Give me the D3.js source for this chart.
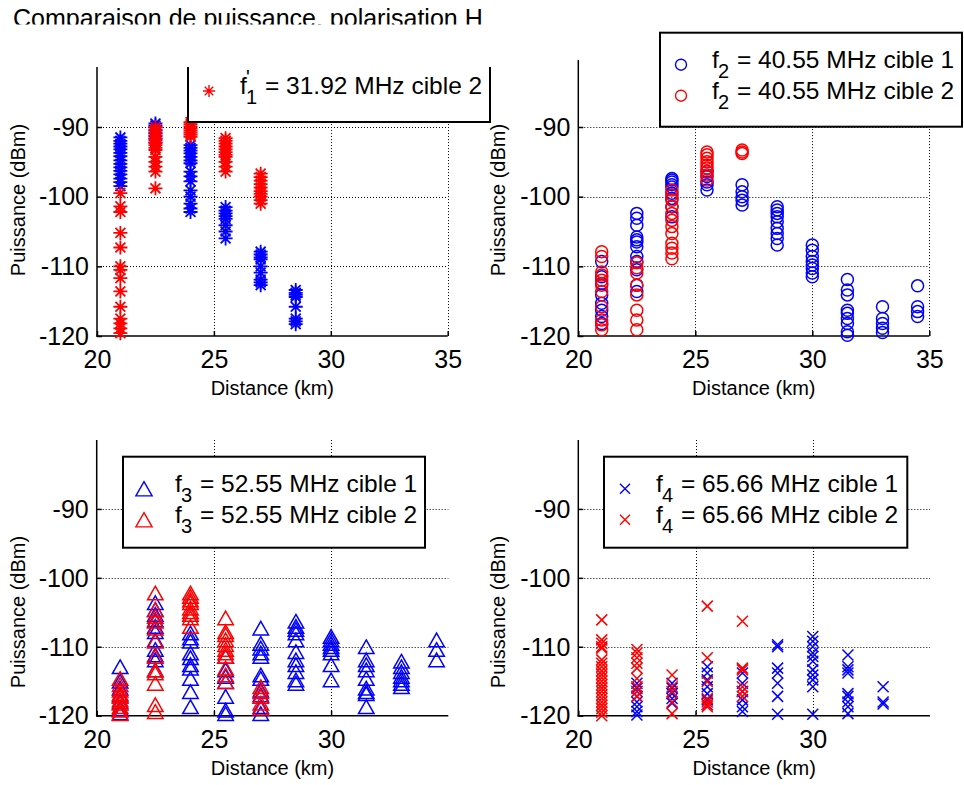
<!DOCTYPE html>
<html><head><meta charset="utf-8">
<script src="https://cdn.jsdelivr.net/npm/d3@7"></script>
<style>
body{margin:0;background:#fff}
svg{display:block}
text{font-family:"Liberation Sans",Arial,Helvetica,sans-serif;fill:#000}
</style>
</head><body>
<svg id="chart" width="964" height="785"></svg>
<script>
// ---------------- data ----------------
const titleText = "Comparaison de puissance, polarisation H";
const xLabelText = "Distance (km)";
const yLabelText = "Puissance (dBm)";
const yTickValues = [-120, -110, -100, -90];
const xTickValuesTop = [20, 25, 30, 35];
const xTickValuesBottom = [20, 25, 30];

// f1 (31.92 MHz) - stars
const f1Cible1 = [
  [21,   [-91.5,-92,-92.4,-92.8,-93.2,-93.7,-94.2,-94.8,-95.3,-95.8,-96.3,-96.8,-97.4,-97.9,-98.5]],
  [22.5, [-89.5,-89.8,-90.1,-90.5,-90.9,-91.3,-91.7,-92.2]],
  [24,   [-92.6,-93.0,-93.4,-93.8,-94.3,-94.8,-95.2,-96.4,-97.1,-97.8,-99.1,-100.0,-101.0,-101.7,-102.2]],
  [25.5, [-101.5,-102.0,-102.4,-102.8,-103.2,-104.1,-105.0,-106.0]],
  [27,   [-107.9,-108.3,-108.7,-109.0,-110.0,-110.9,-111.9,-112.3,-112.7]],
  [28.5, [-113.4,-113.8,-114.1,-114.4,-115.8,-117.5,-117.9,-118.3]]
];
const f1Cible2 = [
  [21,   [-99.5,-101.4,-102.2,-105.2,-107.3,-110.0,-110.5,-111.7,-113.6,-115.8,-117.5,-118.2,-118.9,-119.6]],
  [22.5, [-90.0,-90.4,-90.8,-91.2,-91.6,-91.9,-92.3,-92.6,-93.0,-93.3,-94.3,-95.0,-95.7,-96.4,-98.8]],
  [24,   [-89.3,-89.6,-89.9,-90.2,-90.5,-90.8,-91.1,-91.4]],
  [25.5, [-91.6,-92.0,-92.4,-92.8,-93.2,-93.6,-94.0,-94.3,-95.0,-95.7,-96.4]],
  [27,   [-96.7,-97.2,-97.7,-98.2,-98.7,-99.2,-99.6,-100.0,-100.5,-101.0]]
];

// f2 (40.55 MHz) - circles
const f2Cible1 = [
  [21,   [-109.3,-111.5,-112.45,-114.1,-115.3,-116.3,-117.2,-118.2]],
  [22.5, [-102.4,-103.1,-104.1,-105.8,-106.2,-106.5,-107.2,-108.6,-109.3,-110.5,-112.7,-113.6]],
  [24,   [-97.4,-97.6,-97.9,-98.3,-98.6,-99.5,-100.25,-101.45,-102.9]],
  [25.5, [-96.4,-97.1,-97.9,-98.3,-99.05]],
  [27,   [-98.3,-99.3,-100.0,-100.5,-101.2]],
  [28.5, [-101.45,-101.9,-102.4,-102.9,-103.6,-104.55,-105.3,-106.0,-106.95]],
  [30,   [-106.95,-107.7,-108.6,-109.3,-109.8,-110.3,-110.95,-111.5]],
  [31.5, [-111.9,-113.4,-114.1,-116.3,-116.75,-117.5,-118.2,-119.4,-119.9]],
  [33,   [-115.8,-117.5,-118.2,-118.9,-119.5]],
  [34.5, [-112.8,-115.8,-116.5,-117.2]]
];
const f2Cible2 = [
  [21,   [-107.9,-108.6,-110.8,-111.25,-112.0,-112.7,-113.6,-115.8,-117.7,-118.4,-119.1]],
  [22.5, [-109.5,-110.2,-110.95,-112.7,-114.1,-116.3,-117.7,-119.1]],
  [24,   [-99.05,-99.8,-100.5,-101.45,-102.4,-103.4,-104.3,-105.3,-106.7,-107.4,-108.1,-108.9]],
  [25.5, [-93.6,-94.0,-94.5,-95.0,-95.5,-95.9,-96.4,-96.9,-97.6]],
  [27,   [-93.3,-93.6,-93.8]]
];

// f3 (52.55 MHz) - triangles
const f3Cible1 = [
  [21,   [-112.9,-115.0,-116.0,-117.0,-118.0,-119.0,-119.6]],
  [22.5, [-103.6,-104.6,-105.3,-106.1,-107.05,-107.8,-109.0,-110.4,-111.2,-111.9,-113.35]],
  [24,   [-108.0,-108.7,-109.2,-110.9,-111.6,-112.6,-113.1,-114.6,-116.5,-118.7]],
  [25.5, [-111.4,-113.35,-114.3,-115.05,-117.2,-119.2,-119.7]],
  [27,   [-107.3,-109.5,-110.2,-110.9,-111.4,-114.1,-114.6,-116.3,-117.0,-118.7,-119.7]],
  [28.5, [-106.3,-107.05,-107.5,-108.0,-109.0,-110.7,-111.9,-112.6,-113.6,-114.8,-115.3]],
  [30,   [-108.5,-109.0,-109.5,-110.0,-110.4,-110.9,-112.6,-114.8]],
  [31.5, [-110.0,-111.9,-112.6,-113.35,-114.6,-116.0,-116.5,-116.8,-118.7]],
  [33,   [-112.1,-112.9,-113.6,-114.3,-114.8,-115.3,-115.8]],
  [34.5, [-109.0,-110.4,-111.9]]
];
const f3Cible2 = [
  [21,   [-114.6,-115.5,-116.3,-116.8,-117.2,-117.7,-118.2,-118.7,-119.2,-119.7]],
  [22.5, [-102.2,-104.6,-105.6,-106.3,-107.3,-109.2,-111.4,-113.35,-113.8,-115.3,-118.4,-119.4]],
  [24,   [-102.2,-102.7,-103.2,-103.6,-104.4,-104.9,-105.3,-105.8,-107.05]],
  [25.5, [-105.8,-107.8,-108.25,-109.0,-109.7,-110.4,-110.9,-111.4,-113.1,-114.1,-115.05]],
  [27,   [-115.8,-116.5,-117.2,-118.2,-118.9]]
];

// f4 (65.66 MHz) - crosses
const f4Cible1 = [
  [22.5, [-115.3,-116.0,-116.5,-117.2,-118.0,-118.7,-119.4,-119.9]],
  [24,   [-115.3,-116.0,-116.8,-117.5,-118.2]],
  [25.5, [-112.9,-113.8,-114.8,-115.8,-116.8,-117.7,-118.4]],
  [27,   [-113.8,-115.3,-116.5,-117.7,-118.7,-119.4]],
  [28.5, [-109.7,-110.0,-113.1,-113.8,-115.3,-117.2,-119.8]],
  [30,   [-108.5,-109.2,-110.0,-110.9,-111.4,-112.1,-113.35,-114.1,-114.8,-115.8,-119.8]],
  [31.5, [-111.2,-112.9,-113.35,-113.8,-116.8,-117.2,-118.0,-118.7,-119.7]],
  [33,   [-115.8,-118.0,-118.3]]
];
const f4Cible2 = [
  [21,   [-106.1,-109.0,-109.5,-110.0,-110.2,-111.9,-112.4,-112.9,-113.5,-114,-114.5,-115,-115.5,-116,-116.5,-117,-117.5,-118,-118.5,-119,-119.5,-120]],
  [22.5, [-110.4,-110.9,-111.6,-112.4,-113.1,-114.6,-115.8,-116.5,-117.2]],
  [24,   [-114.1,-115.8,-116.5,-118.0,-119.7]],
  [25.5, [-104.1,-111.6,-115.05,-117.5,-118.0,-118.4,-118.7]],
  [27,   [-106.3,-113.1,-113.35,-115.8,-116.5,-117.2]]
];

const legendF1 = [{row:1, sub:"1", sup:"'", text:"= 31.92 MHz cible 2", series:1}];
const legendF2 = [{row:0, sub:"2", text:"= 40.55 MHz cible 1", series:0},
                  {row:1, sub:"2", text:"= 40.55 MHz cible 2", series:1}];
const legendF3 = [{row:0, sub:"3", text:"= 52.55 MHz cible 1", series:0},
                  {row:1, sub:"3", text:"= 52.55 MHz cible 2", series:1}];
const legendF4 = [{row:0, sub:"4", text:"= 65.66 MHz cible 1", series:0},
                  {row:1, sub:"4", text:"= 65.66 MHz cible 2", series:1}];

const seriesColors = ["#0000ff", "#ff0000"];

// ---------------- drawing ----------------
const svg = d3.select("#chart");
const defs = svg.append("defs");
const plainFormat = d => String(d);

defs.append("clipPath").attr("id","titleClip")
  .append("rect").attr("x",0).attr("y",0).attr("width",964).attr("height",24.5);
defs.append("clipPath").attr("id","leg1Clip")
  .append("rect").attr("x",0).attr("y",67).attr("width",964).attr("height",200);

svg.append("text").attr("x",13).attr("y",26.5)
  .attr("clip-path","url(#titleClip)")
  .style("font-size","25px").text(titleText);

function markerPath(type, s) {
  if (type === "star") {
    const r = s, d = s * 0.7071;
    return `M${-r},0L${r},0M0,${-r}L0,${r}M${-d},${-d}L${d},${d}M${-d},${d}L${d},${-d}`;
  }
  if (type === "tri") {
    const w = s * 1.25, h = s * 1.1;
    return `M0,${-h}L${w},${h}L${-w},${h}Z`;
  }
  if (type === "x") {
    return `M${-s},${-s}L${s},${s}M${-s},${s}L${s},${-s}`;
  }
  return null;
}

function drawMarker(g, type, cx, cy, color, s, sw) {
  if (type === "circle") {
    g.append("circle").attr("cx",cx).attr("cy",cy).attr("r",s)
      .attr("fill","none").attr("stroke",color).attr("stroke-width",sw);
  } else {
    g.append("path").attr("d",markerPath(type,s))
      .attr("transform",`translate(${cx},${cy})`)
      .attr("fill","none").attr("stroke",color).attr("stroke-width",sw)
      .attr("stroke-linejoin","miter");
  }
}

function panel(cfg) {
  const x = d3.scaleLinear().domain([20,35]).range([cfg.x0, cfg.x1]);
  const y = d3.scaleLinear().domain(cfg.yDomain).range(cfg.yRange);
  const g = svg.append("g");
  const yBottom = y(-120), yTop = y(cfg.yTopValue);

  // grid
  const grid = g.append("g").attr("stroke","#000").attr("stroke-width",1)
    .attr("stroke-dasharray","1,2").attr("fill","none");
  yTickValues.filter(v => v > -120).forEach(v => {
    grid.append("line").attr("x1",x(20)).attr("x2",x(35))
      .attr("y1",Math.round(y(v))+0.5).attr("y2",Math.round(y(v))+0.5);
  });
  cfg.xTicks.filter(v => v > 20).forEach(v => {
    grid.append("line").attr("x1",Math.round(x(v))+0.5).attr("x2",Math.round(x(v))+0.5)
      .attr("y1",yTop).attr("y2",yBottom);
  });

  // axes (ticks + labels)
  const ax = g.append("g").attr("transform",`translate(${x(20)},0)`)
    .call(d3.axisLeft(y).tickValues(yTickValues).tickSizeInner(-5).tickSizeOuter(0).tickPadding(8).tickFormat(plainFormat));
  ax.select(".domain").remove();
  ax.attr("font-family",null).attr("font-size",null);
  ax.selectAll("text").style("font-size","25px").attr("dy","0.33em");
  ax.selectAll("line").attr("stroke","#000").attr("stroke-width",1.5);

  const bx = g.append("g").attr("transform",`translate(0,${yBottom})`)
    .call(d3.axisBottom(x).tickValues(cfg.xTicks).tickSizeInner(-5).tickSizeOuter(0).tickPadding(14.5).tickFormat(plainFormat));
  bx.select(".domain").remove();
  bx.attr("font-family",null).attr("font-size",null);
  bx.selectAll("text").style("font-size","25px").attr("dy","0.71em");
  bx.selectAll("line").attr("stroke","#000").attr("stroke-width",1.5);

  // axis lines
  g.append("line").attr("x1",x(20)).attr("x2",x(20)).attr("y1",yTop).attr("y2",yBottom+0.75)
    .attr("stroke","#000").attr("stroke-width",1.5);
  g.append("line").attr("x1",x(20)-0.75).attr("x2",x(35)).attr("y1",yBottom).attr("y2",yBottom)
    .attr("stroke","#000").attr("stroke-width",1.5);

  // labels
  g.append("text").attr("x",(x(20)+x(35))/2).attr("y",yBottom+59)
    .attr("text-anchor","middle").style("font-size","20px").text(xLabelText);
  g.append("text").attr("transform",`translate(${cfg.yLabelX},${cfg.yLabelY}) rotate(-90)`)
    .attr("text-anchor","middle").style("font-size","20px").text(yLabelText);

  // data
  const dataG = g.append("g");
  cfg.series.forEach((ser, si) => {
    ser.forEach(([dist, vals]) => {
      vals.forEach(v => drawMarker(dataG, cfg.marker, x(dist), y(v), seriesColors[si], cfg.markerSize, cfg.strokeW));
    });
  });

  // legend
  const lg = svg.append("g");
  if (cfg.legendClip) lg.attr("clip-path", `url(#${cfg.legendClip})`);
  const b = cfg.legendBox;
  lg.append("rect").attr("x",b.x).attr("y",b.y).attr("width",b.w).attr("height",b.h)
    .attr("fill","#fff").attr("stroke","#000").attr("stroke-width",2);
  cfg.legend.forEach(e => {
    const base = b.y + 35 + e.row * 31;
    drawMarker(lg, cfg.marker, b.x + 21, base - 3, seriesColors[e.series], cfg.legendMarkerSize, 1.4);
    lg.append("text").attr("x",b.x+52).attr("y",base).style("font-size","24.5px").text("f");
    lg.append("text").attr("x",b.x+58).attr("y",base+10).style("font-size","20px").text(e.sub);
    if (e.sup) lg.append("text").attr("x",b.x+58).attr("y",base-10).style("font-size","20px").text(e.sup);
    lg.append("text").attr("x",b.x+77).attr("y",base).style("font-size","24.5px").text(e.text);
  });
}

panel({x0:97, x1:447.7, yDomain:[-120,-90], yRange:[336,127], yTopValue:-81.4,
  xTicks:xTickValuesTop, yLabelX:25, yLabelY:200,
  series:[f1Cible1, f1Cible2], marker:"star", markerSize:7, strokeW:1.8, legendMarkerSize:6,
  legendBox:{x:188, y:28, w:302, h:94}, legend:legendF1, legendClip:"leg1Clip"});

panel({x0:578.3, x1:929.3, yDomain:[-120,-90], yRange:[336,127], yTopValue:-80.4,
  xTicks:xTickValuesTop, yLabelX:505, yLabelY:200,
  series:[f2Cible1, f2Cible2], marker:"circle", markerSize:6, strokeW:1.5, legendMarkerSize:5.5,
  legendBox:{x:660, y:32.7, w:302, h:94}, legend:legendF2});

panel({x0:96.7, x1:448.3, yDomain:[-120,-80], yRange:[715.7,440], yTopValue:-80,
  xTicks:xTickValuesBottom, yLabelX:25, yLabelY:612,
  series:[f3Cible1, f3Cible2], marker:"tri", markerSize:6.2, strokeW:1.5, legendMarkerSize:6.5,
  legendBox:{x:123, y:456.7, w:302, h:91}, legend:legendF3});

panel({x0:578.3, x1:930, yDomain:[-120,-80], yRange:[715.7,440], yTopValue:-80,
  xTicks:xTickValuesBottom, yLabelX:505, yLabelY:612,
  series:[f4Cible1, f4Cible2], marker:"x", markerSize:5.5, strokeW:1.5, legendMarkerSize:5,
  legendBox:{x:604, y:456.7, w:303.3, h:91}, legend:legendF4});
</script>
</body></html>
